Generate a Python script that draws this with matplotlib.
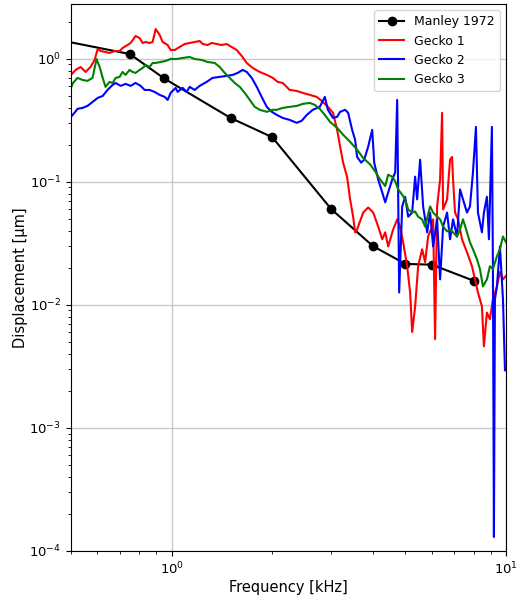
import matplotlib
matplotlib.use("Agg")
import matplotlib.pyplot as plt

# Manley 1972 reference data
manley_f = [0.4, 0.75, 0.95, 1.5, 2.0, 3.0, 4.0, 5.0, 6.0, 8.0]
manley_d = [1.53, 1.09, 0.69, 0.33, 0.23, 0.060, 0.030, 0.0215, 0.0212, 0.0157]

# Gecko 1 (red)
g1_f = [0.500, 0.516, 0.534, 0.553, 0.572, 0.588, 0.601, 0.613, 0.634, 0.652,
        0.675, 0.699, 0.713, 0.738, 0.754, 0.780, 0.802, 0.819, 0.836, 0.859,
        0.877, 0.896, 0.921, 0.940, 0.973, 0.993, 1.021, 1.057, 1.094, 1.132,
        1.172, 1.213, 1.238, 1.281, 1.317, 1.364, 1.411, 1.461, 1.512, 1.565,
        1.620, 1.677, 1.748, 1.834, 1.925, 2.007, 2.077, 2.148, 2.254, 2.366,
        2.466, 2.589, 2.717, 2.833, 2.933, 3.038, 3.126, 3.191, 3.257, 3.349,
        3.418, 3.490, 3.538, 3.587, 3.740, 3.871, 4.008, 4.148, 4.264, 4.353,
        4.443, 4.598, 4.727, 4.82, 4.926, 5.063, 5.168, 5.240, 5.349, 5.461,
        5.613, 5.730, 5.849, 6.012, 6.054, 6.137, 6.222, 6.352, 6.440, 6.485,
        6.665, 6.803, 6.898, 6.945, 7.041, 7.187, 7.387, 7.645, 7.911, 8.076,
        8.244, 8.473, 8.590, 8.769, 8.952, 9.139, 9.394, 9.592, 9.794, 10.0]
g1_d = [0.738, 0.810, 0.856, 0.780, 0.856, 0.976, 1.199, 1.155, 1.133, 1.112,
        1.155, 1.155, 1.221, 1.291, 1.341, 1.528, 1.472, 1.341, 1.366, 1.341,
        1.366, 1.741, 1.557, 1.366, 1.291, 1.176, 1.176, 1.244, 1.316, 1.341,
        1.366, 1.392, 1.316, 1.291, 1.341, 1.316, 1.291, 1.316, 1.244, 1.176,
        1.052, 0.923, 0.840, 0.780, 0.738, 0.698, 0.647, 0.635, 0.557, 0.547,
        0.527, 0.508, 0.489, 0.445, 0.406, 0.363, 0.264, 0.193, 0.143, 0.109,
        0.0719, 0.0520, 0.0388, 0.0410, 0.0562, 0.0618, 0.0562, 0.0432, 0.0341, 0.0388,
        0.0298, 0.0410, 0.0495, 0.0432, 0.0322, 0.0206, 0.0126, 0.00602, 0.00970, 0.0206,
        0.0283, 0.0222, 0.0359, 0.0432, 0.0495, 0.00527, 0.0630, 0.104, 0.363, 0.0596,
        0.0719, 0.151, 0.159, 0.104, 0.0562, 0.0495, 0.0341, 0.0267, 0.0206, 0.0161,
        0.0126, 0.00970, 0.00460, 0.00865, 0.00764, 0.0111, 0.0141, 0.0185, 0.0161, 0.0172]

# Gecko 2 (blue)
g2_f = [0.500, 0.512, 0.523, 0.541, 0.560, 0.580, 0.601, 0.622, 0.643, 0.666,
        0.680, 0.704, 0.728, 0.754, 0.780, 0.808, 0.830, 0.859, 0.889, 0.921,
        0.953, 0.973, 0.993, 1.028, 1.042, 1.079, 1.109, 1.132, 1.172, 1.213,
        1.272, 1.326, 1.392, 1.461, 1.522, 1.576, 1.631, 1.677, 1.736, 1.797,
        1.859, 1.925, 1.993, 2.063, 2.148, 2.254, 2.366, 2.449, 2.536, 2.643,
        2.774, 2.872, 2.933, 3.038, 3.126, 3.191, 3.303, 3.372, 3.466, 3.538,
        3.587, 3.688, 3.766, 3.871, 3.980, 4.035, 4.148, 4.264, 4.353, 4.443,
        4.567, 4.662, 4.727, 4.792, 4.892, 4.994, 5.098, 5.240, 5.349, 5.423,
        5.536, 5.652, 5.809, 5.930, 6.054, 6.222, 6.352, 6.485, 6.665, 6.803,
        6.945, 7.138, 7.287, 7.438, 7.645, 7.803, 7.965, 8.131, 8.244, 8.473,
        8.590, 8.769, 8.891, 9.076, 9.139, 9.202, 9.266, 9.394, 9.592, 9.794, 9.930]
g2_d = [0.337, 0.363, 0.391, 0.398, 0.413, 0.445, 0.480, 0.498, 0.557, 0.612,
        0.635, 0.601, 0.624, 0.601, 0.635, 0.601, 0.557, 0.557, 0.537, 0.508,
        0.489, 0.462, 0.527, 0.579, 0.537, 0.579, 0.537, 0.590, 0.557, 0.601,
        0.647, 0.698, 0.711, 0.724, 0.738, 0.766, 0.810, 0.780, 0.698, 0.590,
        0.489, 0.406, 0.370, 0.349, 0.330, 0.318, 0.301, 0.313, 0.349, 0.384,
        0.406, 0.489, 0.384, 0.330, 0.337, 0.370, 0.384, 0.363, 0.264, 0.219,
        0.159, 0.143, 0.151, 0.193, 0.264, 0.143, 0.104, 0.0820, 0.0680, 0.0820,
        0.104, 0.119, 0.462, 0.0126, 0.0630, 0.0755, 0.0520, 0.0562, 0.110, 0.0719,
        0.151, 0.0630, 0.0388, 0.0562, 0.0298, 0.0495, 0.0161, 0.0432, 0.0562, 0.0341,
        0.0495, 0.0359, 0.0866, 0.0719, 0.0562, 0.0630, 0.119, 0.279, 0.0562, 0.0388,
        0.0562, 0.0755, 0.0341, 0.279, 0.0206, 0.00013, 0.0111, 0.0141, 0.0298, 0.0111, 0.00294]

# Gecko 3 (green)
g3_f = [0.500, 0.507, 0.523, 0.541, 0.560, 0.580, 0.596, 0.609, 0.622, 0.634,
        0.652, 0.666, 0.680, 0.699, 0.713, 0.728, 0.748, 0.764, 0.780, 0.802,
        0.819, 0.836, 0.859, 0.877, 0.896, 0.927, 0.960, 0.993, 1.035, 1.079,
        1.132, 1.172, 1.230, 1.281, 1.345, 1.392, 1.441, 1.491, 1.544, 1.598,
        1.654, 1.713, 1.772, 1.834, 1.925, 2.007, 2.063, 2.148, 2.254, 2.366,
        2.466, 2.589, 2.680, 2.774, 2.872, 2.975, 3.126, 3.257, 3.418, 3.587,
        3.740, 3.926, 4.063, 4.205, 4.353, 4.443, 4.567, 4.662, 4.759, 4.892,
        4.994, 5.098, 5.240, 5.349, 5.461, 5.613, 5.730, 5.930, 6.054, 6.222,
        6.352, 6.485, 6.665, 6.803, 6.945, 7.138, 7.287, 7.438, 7.645, 7.803,
        7.965, 8.187, 8.358, 8.532, 8.769, 8.952, 9.139, 9.394, 9.592, 9.794, 10.0]
g3_d = [0.579, 0.635, 0.698, 0.672, 0.660, 0.698, 0.994, 0.856, 0.698, 0.590,
        0.647, 0.635, 0.698, 0.711, 0.780, 0.738, 0.810, 0.780, 0.766, 0.810,
        0.840, 0.889, 0.856, 0.923, 0.923, 0.940, 0.958, 0.994, 0.994, 1.013,
        1.032, 0.994, 0.976, 0.940, 0.923, 0.856, 0.766, 0.698, 0.635, 0.590,
        0.527, 0.462, 0.406, 0.384, 0.370, 0.384, 0.384, 0.398, 0.406, 0.413,
        0.429, 0.437, 0.421, 0.391, 0.349, 0.307, 0.274, 0.241, 0.211, 0.182,
        0.156, 0.138, 0.121, 0.104, 0.0924, 0.114, 0.110, 0.101, 0.0866, 0.0784,
        0.0719, 0.0596, 0.0562, 0.0573, 0.0520, 0.0495, 0.0432, 0.0630, 0.0562, 0.0520,
        0.0495, 0.0432, 0.0395, 0.0410, 0.0388, 0.0359, 0.0410, 0.0495, 0.0388, 0.0322,
        0.0283, 0.0235, 0.0195, 0.0141, 0.0161, 0.0206, 0.0195, 0.0248, 0.0283, 0.0359, 0.0322]

fig = plt.figure(figsize=(5.16, 5.98), dpi=100)
ax = fig.add_axes([0.1376, 0.0786, 0.8430, 0.9147])

ax.plot(manley_f, manley_d, color="black", marker="o", markersize=6, lw=1.5, label="Manley 1972")
ax.plot(g1_f, g1_d, color="red", lw=1.5, label="Gecko 1")
ax.plot(g2_f, g2_d, color="blue", lw=1.5, label="Gecko 2")
ax.plot(g3_f, g3_d, color="green", lw=1.5, label="Gecko 3")

ax.set_xscale("log")
ax.set_yscale("log")
ax.set_xlim(0.5, 10)
ax.set_ylim(1e-4, 2.78)
ax.grid(True, which="major", color="#c8c8c8", lw=1.0)
ax.set_xlabel("Frequency [kHz]", fontsize=10.5, labelpad=2)
ax.set_ylabel("Displacement [μm]", fontsize=10.5, labelpad=1)
ax.tick_params(labelsize=9.5)
ax.legend(loc="upper right", fontsize=9)

fig.savefig("out.png", dpi=100)
